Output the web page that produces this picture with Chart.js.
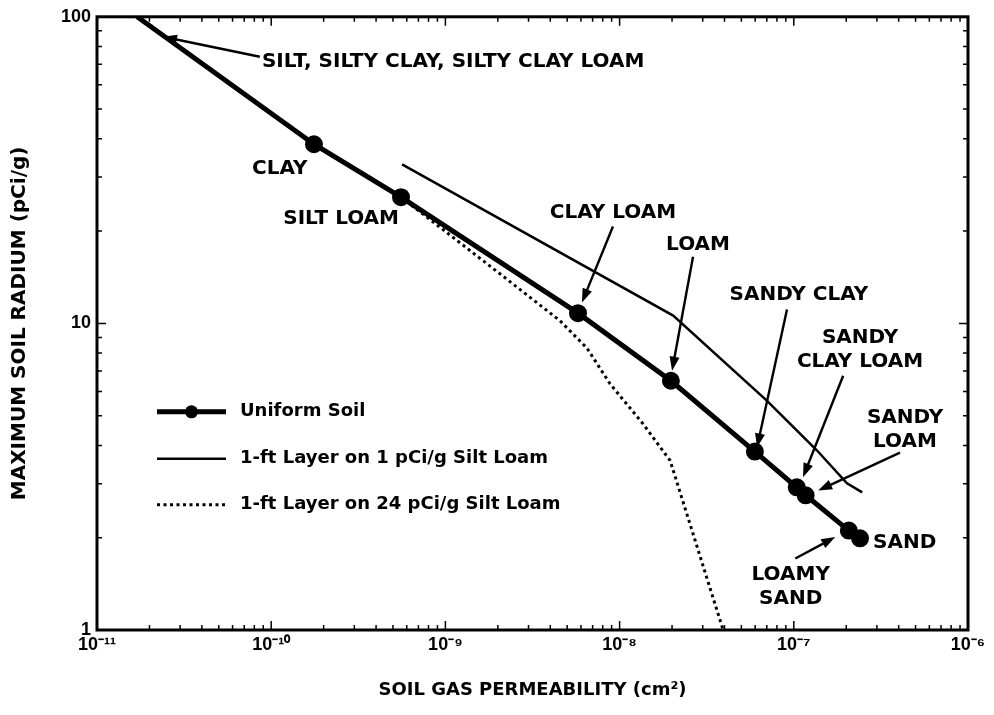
<!DOCTYPE html>
<html>
<head>
<meta charset="utf-8">
<script src="https://cdn.jsdelivr.net/npm/chart.js@4.4.1/dist/chart.umd.min.js"></script>
<style>
  html, body { margin: 0; background: #fff; }
</style>
</head>
<body>
<canvas id="chart" width="994" height="715"></canvas>
<script>
// Uniform soil curve (permeability cm2, max soil radium pCi/g)
const uniformX = [1.7e-11, 1.76e-10, 5.56e-10, 5.77e-9, 1.97e-8, 5.98e-8, 1.04e-7, 1.17e-7, 2.07e-7, 2.40e-7];
const uniformY = [100, 38.4, 25.8, 10.8, 6.5, 3.82, 2.92, 2.75, 2.11, 1.99];

// 1-ft layer on 1 pCi/g silt loam
const layer1X = [5.64e-10, 2.03e-8, 7.0e-8, 1.36e-7, 2.02e-7, 2.47e-7];
const layer1Y = [33.0, 10.6, 5.6, 3.85, 3.01, 2.81];

// 1-ft layer on 24 pCi/g silt loam
const layer24X = [5.56e-10, 9.3e-10, 2.06e-9, 4.55e-9, 6.5e-9, 8.8e-9, 1.36e-8, 1.95e-8, 3.93e-8];
const layer24Y = [25.8, 20.6, 14.5, 10.2, 8.3, 6.36, 4.71, 3.57, 1.0];

const seriesNames = ["Uniform Soil", "1-ft Layer on 1 pCi/g Silt Loam", "1-ft Layer on 24 pCi/g Silt Loam"];

// soil type labels: text lines, anchor (data coords), arrow tail -> head (data coords)
const soilLabels = [
  { lines: ["SILT, SILTY CLAY, SILTY CLAY LOAM"], at: [8.85e-11, 71.4], align: "left", arrow: [8.6e-11, 74.1, 2.39e-11, 86.1] },
  { lines: ["CLAY"], at: [1.12e-10, 32.0] },
  { lines: ["SILT LOAM"], at: [2.52e-10, 21.9] },
  { lines: ["CLAY LOAM"], at: [9.16e-9, 22.9], arrow: [9.16e-9, 20.7, 6.08e-9, 11.7] },
  { lines: ["LOAM"], at: [2.82e-8, 18.1], arrow: [2.64e-8, 16.5, 2.0e-8, 7.01] },
  { lines: ["SANDY CLAY"], at: [1.07e-7, 12.4], arrow: [9.14e-8, 11.1, 6.15e-8, 3.94] },
  { lines: ["SANDY", "CLAY LOAM"], at: [2.4e-7, 8.97], arrow: [1.92e-7, 6.75, 1.13e-7, 3.15] },
  { lines: ["SANDY", "LOAM"], at: [4.35e-7, 4.93], arrow: [4.07e-7, 3.79, 1.38e-7, 2.85] },
  { lines: ["SAND"], at: [2.85e-7, 1.92], align: "left" },
  { lines: ["LOAMY", "SAND"], at: [9.6e-8, 1.51], arrow: [1.02e-7, 1.71, 1.73e-7, 2.01] },
];

const FONT = "'Liberation Sans', Arial, sans-serif";
const HEAVY = "'DejaVu Sans', sans-serif";
const pts = (xs, ys) => xs.map((x, i) => ({ x: x, y: ys[i] }));
const isPow10 = v => Math.abs(Math.log10(v) - Math.round(Math.log10(v))) < 1e-6;
const supDigits = { "-": "\u207B", "0": "\u2070", "1": "\u00B9", "2": "\u00B2", "3": "\u00B3", "4": "\u2074", "5": "\u2075", "6": "\u2076", "7": "\u2077", "8": "\u2078", "9": "\u2079" };
const pow10Label = v => "10" + String(Math.round(Math.log10(v))).split("").map(c => supDigits[c]).join("");

// keep only 1..9 x 10^n ticks
const cleanTicks = scale => {
  scale.ticks = scale.ticks.filter(t => {
    const m = t.value / Math.pow(10, Math.floor(Math.log10(t.value) + 1e-9));
    return Math.abs(m - Math.round(m)) < 1e-6;
  });
};

function drawArrow(ctx, x1, y1, x2, y2) {
  const ang = Math.atan2(y2 - y1, x2 - x1);
  const hl = 14, hw = 5;
  ctx.beginPath();
  ctx.moveTo(x1, y1);
  ctx.lineTo(x2 - Math.cos(ang) * hl * 0.8, y2 - Math.sin(ang) * hl * 0.8);
  ctx.lineWidth = 2.4;
  ctx.stroke();
  ctx.beginPath();
  ctx.moveTo(x2, y2);
  ctx.lineTo(x2 - Math.cos(ang) * hl + Math.sin(ang) * hw, y2 - Math.sin(ang) * hl - Math.cos(ang) * hw);
  ctx.lineTo(x2 - Math.cos(ang) * hl - Math.sin(ang) * hw, y2 - Math.sin(ang) * hl + Math.cos(ang) * hw);
  ctx.closePath();
  ctx.fill();
}

// frame + inward tick marks on all four sides
const framePlugin = {
  id: "frame",
  afterDatasetsDraw(chart) {
    const { ctx, chartArea: a, scales } = chart;
    ctx.save();
    ctx.strokeStyle = "#000";
    ctx.lineWidth = 1.5;
    scales.x.ticks.forEach(t => {
      const p = scales.x.getPixelForValue(t.value);
      const len = isPow10(t.value) ? 9 : 5;
      ctx.beginPath();
      ctx.moveTo(p, a.bottom); ctx.lineTo(p, a.bottom - len);
      ctx.moveTo(p, a.top); ctx.lineTo(p, a.top + len);
      ctx.stroke();
    });
    scales.y.ticks.forEach(t => {
      const p = scales.y.getPixelForValue(t.value);
      const len = isPow10(t.value) ? 9 : 5;
      ctx.beginPath();
      ctx.moveTo(a.left, p); ctx.lineTo(a.left + len, p);
      ctx.moveTo(a.right, p); ctx.lineTo(a.right - len, p);
      ctx.stroke();
    });
    ctx.lineWidth = 3;
    ctx.strokeRect(a.left, a.top, a.right - a.left, a.bottom - a.top);
    ctx.restore();
  }
};

// soil labels with arrows, plus the legend box
const notesPlugin = {
  id: "notes",
  afterDraw(chart) {
    const { ctx, chartArea: a, scales } = chart;
    const px = v => scales.x.getPixelForValue(v);
    const py = v => scales.y.getPixelForValue(v);
    ctx.save();
    ctx.fillStyle = "#000";
    ctx.strokeStyle = "#000";
    ctx.font = "bold 20px " + HEAVY;
    ctx.textBaseline = "middle";
    soilLabels.forEach(l => {
      ctx.textAlign = l.align || "center";
      l.lines.forEach((s, i) => ctx.fillText(s, px(l.at[0]), py(l.at[1]) + i * 24));
      if (l.arrow) drawArrow(ctx, px(l.arrow[0]), py(l.arrow[1]), px(l.arrow[2]), py(l.arrow[3]));
    });

    // legend
    const x0 = a.left + 60, x1 = a.left + 129, tx = a.left + 143;
    const rows = [a.top + 395, a.top + 442, a.top + 488];
    ctx.lineCap = "butt";
    ctx.lineWidth = 5;
    ctx.beginPath(); ctx.moveTo(x0, rows[0]); ctx.lineTo(x1, rows[0]); ctx.stroke();
    ctx.beginPath(); ctx.arc((x0 + x1) / 2, rows[0], 6.5, 0, Math.PI * 2); ctx.fill();
    ctx.lineWidth = 2.5;
    ctx.beginPath(); ctx.moveTo(x0, rows[1]); ctx.lineTo(x1, rows[1]); ctx.stroke();
    ctx.lineWidth = 3;
    ctx.setLineDash([3, 3.5]);
    ctx.beginPath(); ctx.moveTo(x0, rows[2]); ctx.lineTo(x1, rows[2]); ctx.stroke();
    ctx.setLineDash([]);
    ctx.font = "bold 18px " + HEAVY;
    ctx.textAlign = "left";
    seriesNames.forEach((n, i) => ctx.fillText(n, tx, rows[i]));
    ctx.restore();
  }
};

new Chart(document.getElementById("chart"), {
  type: "scatter",
  data: {
    datasets: [
      {
        label: seriesNames[0],
        data: pts(uniformX, uniformY),
        showLine: true,
        borderColor: "#000",
        backgroundColor: "#000",
        borderWidth: 5,
        pointRadius: uniformX.map((_, i) => (i === 0 ? 0 : 6.5)),
        pointHoverRadius: 0,
      },
      {
        label: seriesNames[1],
        data: pts(layer1X, layer1Y),
        showLine: true,
        borderColor: "#000",
        borderWidth: 2.5,
        pointRadius: 0,
      },
      {
        label: seriesNames[2],
        data: pts(layer24X, layer24Y),
        showLine: true,
        borderColor: "#000",
        borderWidth: 3,
        borderDash: [3, 3.5],
        pointRadius: 0,
      },
    ],
  },
  options: {
    responsive: false,
    animation: false,
    layout: { padding: { left: 0, top: 15, right: 26, bottom: 0 } },
    plugins: { legend: { display: false }, tooltip: { enabled: false } },
    scales: {
      x: {
        type: "logarithmic",
        min: 1e-11,
        max: 1e-6,
        afterBuildTicks: cleanTicks,
        afterFit: s => { s.height = 85; },
        grid: { display: false, drawTicks: false },
        border: { display: false },
        ticks: {
          autoSkip: false,
          maxRotation: 0,
          padding: 4,
          color: "#000",
          font: { family: FONT, size: 18, weight: "bold" },
          callback: v => (isPow10(v) ? pow10Label(v) : ""),
        },
        title: {
          display: true,
          text: "SOIL GAS PERMEABILITY (cm\u00B2)",
          color: "#000",
          font: { family: HEAVY, size: 18, weight: "bold" },
          padding: { top: 0, bottom: 14 },
        },
      },
      y: {
        type: "logarithmic",
        min: 1,
        max: 100,
        afterBuildTicks: cleanTicks,
        afterFit: s => { s.width = 97; },
        grid: { display: false, drawTicks: false },
        border: { display: false },
        ticks: {
          autoSkip: false,
          padding: 6,
          color: "#000",
          font: { family: FONT, size: 18, weight: "bold" },
          callback: v => (isPow10(v) ? String(Math.round(v)) : ""),
        },
        title: {
          display: true,
          text: "MAXIMUM SOIL RADIUM (pCi/g)",
          color: "#000",
          font: { family: HEAVY, size: 20, weight: "bold" },
          padding: { top: 8, bottom: 0 },
        },
      },
    },
  },
  plugins: [framePlugin, notesPlugin],
});
</script>
</body>
</html>
